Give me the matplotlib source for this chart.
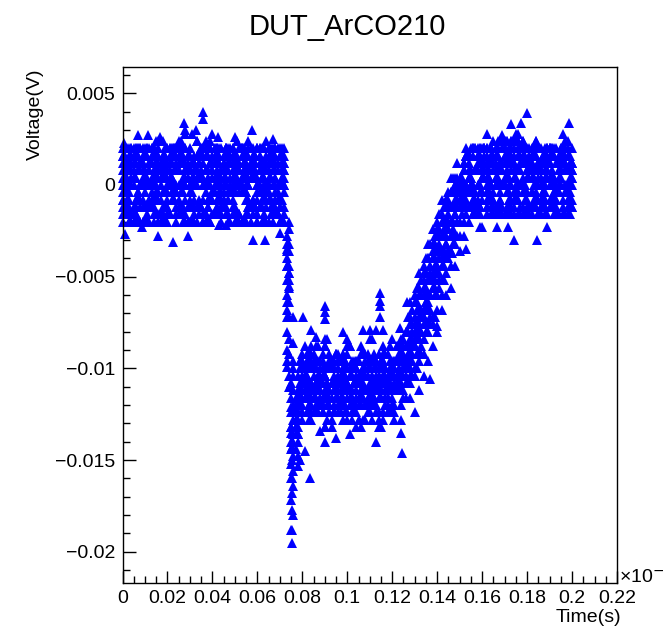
import numpy as np
import matplotlib
matplotlib.use("Agg")
import matplotlib.pyplot as plt
from matplotlib.ticker import FixedLocator, MultipleLocator

# ---- data -------------------------------------------------------------
title = "DUT_ArCO210"
x_label = "Time(s)"
y_label = "Voltage(V)"

# sample times in ns (axis shows units of 1e-6 s)
time_ns = [0, 2, 4, 6, 8, 10, 12, 14, 16, 18, 20, 22, 24, 26, 28, 30, 32, 34, 36, 38,
           40, 42, 44, 46, 48, 50, 52, 54, 56, 58, 60, 62, 64, 66, 68, 70, 72, 74, 76, 78,
           80, 82, 84, 86, 88, 90, 92, 94, 96, 98, 100, 102, 104, 106, 108, 110, 112, 114, 116, 118,
           120, 122, 124, 126, 128, 130, 132, 134, 136, 138, 140, 142, 144, 146, 148, 150, 152, 154, 156, 158,
           160, 162, 164, 166, 168, 170, 172, 174, 176, 178, 180, 182, 184, 186, 188, 190, 192, 194, 196, 198,
           200]
time_odd_ns = [1, 3, 5, 7, 9, 11, 13, 15, 17, 19, 21, 23, 25, 27, 29, 31, 33, 35, 37, 39,
               41, 43, 45, 47, 49, 51, 53, 55, 57, 59, 61, 63, 65, 67, 69, 71, 73, 75, 77, 79,
               81, 83, 85, 87, 89, 91, 93, 95, 97, 99, 101, 103, 105, 107, 109, 111, 113, 115, 117, 119,
               121, 123, 125, 127, 129, 131, 133, 135, 137, 139, 141, 143, 145, 147, 149, 151, 153, 155, 157, 159,
               161, 163, 165, 167, 169, 171, 173, 175, 177, 179, 181, 183, 185, 187, 189, 191, 193, 195, 197, 199]

# waveforms on the even grid, voltage in units of 0.1 mV
trace_1 = [4, -16, 12, -8, 20, 0, -20, 8, -4, 16, -12, 4, 20, -16, 8, 0, -8, 12, -20, 16, -4, 4, -12, 20, 0, -16, 8, 12, -8, 16, -20, 4, -4, 12, -12, 20, 0,
           -36, -112,
           -120, -104, -96, -112, -108, -100, -116, -92, -104, -112, -100, -108, -96, -120, -104, -100, -112, -92, -108, -104,
           -110, -96, -88, -84, -80, -64, -60, -48, -44, -32, -24, -20, -8, -8, 4,
           0, -12, 8, 16, -16, 12, 4, 20, -8, 8, -4, 16, -12, 20, 0, 12, -16, 4, 24, -8, 16, 0, -12, 8, 20, -4, 12]
trace_2 = [-12, 8, -20, 16, 0, -4, 12, -16, 20, 4, -8, 16, -12, 0, 8, -20, 12, 4, -16, 20, -4, 8, -8, 16, 0, -12, 20, -20, 4, 12, -16, 8, -4, 16, 0, -8, 12,
           -48, -128,
           -116, -108, -124, -100, -112, -116, -104, -120, -108, -96, -116, -112, -124, -104, -108, -120, -100, -116, -112, -104, -120,
           -104, -104, -92, -88, -76, -72, -56, -52, -40, -36, -28, -16, -12, -4, 0,
           4, -8, 16, -16, 8, 20, -4, 12, 0, -12, 16, 4, 24, -8, 12, -16, 20, 0, 8, -12, 16, 4, -4, 20, 8, -8]
trace_3 = [16, -4, 8, -20, 12, -12, 0, 20, -8, 4, -16, 16, 8, -4, 20, -12, 0, 12, -20, 4, 16, -8, 8, -16, 20, 0, -4, 12, -12, 4, 20, -20, 8, 16, -8, 0, -16,
           -24, -96,
           -104, -92, -100, -88, -108, -96, -84, -100, -112, -92, -104, -88, -100, -96, -108, -92, -84, -100, -104, -96, -92,
           -100, -96, -88, -80, -72, -64, -60, -48, -40, -32, -24, -20, -8, -4, 4,
           -8, 12, 4, 20, -16, 8, 0, 16, -12, 24, 4, -4, 12, 20, -16, 8, 16, -8, 0, 12, -12, 20, 4, 16, -4, 8]
trace_4 = [-8, 20, -16, 4, 12, -20, 8, 0, 16, -12, 4, 20, -4, -16, 12, 8, -20, 16, 0, -8, 28, -12, 4, 20, -4, 12, -16, 8, 0, 16, -20, 4, 12, -8, 20, -12, 0,
           -56, -148,
           -132, -120, -108, -116, -124, -104, -112, -120, -100, -116, -108, -124, -112, -100, -116, -120, -108, -112, -128, -104, -116, -112,
           -108, -96, -96, -84, -80, -68, -56, -52, -40, -36, -28, -20, -12, -4, 0,
           12, -4, 20, -12, 8, 16, 0, -16, 12, 24, 4, -8, 16, 20, -12, 8, 0, 12, -16, 20, 4, -4, 16, 8, -12]
trace_5 = [0, -12, 16, -20, 8, 4, -8, 20, -16, 12, 0, -4, 16, -12, 20, -20, 8, 4, 36, -8, 12, -16, 0, 20, -4, 8, -20, 16, 24, -12, 4, -8, 12, 20, -16, 0, 8,
           -72, -164,
           -140, -112, -104, -96, -116, -108, -100, -112, -120, -104, -96, -108, -116, -100, -112, -104, -96, -108, -112, -100, -116, -104, -108,
           -112, -100, -96, -84, -76, -72, -60, -48, -44, -36, -24, -20, -12, -8, 0,
           -4, 16, -12, 8, 20, 0, -16, 12, 24, -8, 4, 16, -12, 20, 8, -4, 12, 0, 20, -16, 8, 16, -8, 12]
trace_6 = [12, 0, -20, 16, -8, 4, 20, -12, 24, -16, 8, 0, -4, 12, 28, -20, 4, 16, -8, 0, -16, 20, 8, -12, 12, 4, -20, 16, 0, -8, 20, -4, 8, -16, 12, 0, -20,
           -92, -180,
           -148, -128, -116, -124, -108, -120, -132, -112, -124, -116, -128, -108, -120, -116, -132, -112, -124, -120, -108, -128, -116, -124, -112,
           -104, -104, -96, -88, -80, -68, -64, -52, -44, -36, -32, -20, -12, -4, 0,
           8, -16, 20, 4, -8, 16, 12, -12, 0, 20, 8, 28, -4, 12, -16, 16, 4, -8, 20, 0, 12, -12, 24, 4]
trace_7 = [-20, 8, 16, -12, 0, 20, -8, 4, 12, -16, 20, 0, -4, 24, -20, 8, 12, -12, 16, 4, -8, 20, -16, 0, 12, -4, 8, -20, 16, 4, 20, -12, 0, 12, -8, 16, -4,
           -20, -120,
           -124, -100, -92, -108, -96, -104, -88, -112, -100, -96, -108, -84, -104, -100, -92, -112, -100, -96, -104, -88, -108, -100, -96, -104,
           -100, -104, -88, -84, -76, -68, -56, -48, -40, -32, -28, -16, -8, -4, 4,
           -12, 16, 4, -4, 20, 8, -16, 12, 0, 24, -8, 16, 4, -12, 20, 8, -4, 12, 16, -16, 28, 0, 8]
trace_8 = [8, -8, 20, -16, 12, 0, -12, 16, 4, -20, 8, 20, -4, 12, -16, 0, 16, -8, 20, -12, 4, 12, -20, 8, 16, -4, 0, 20, -16, 12, -8, 4, 24, -12, 8, -20, 16,
           -44, -136,
           -128, -116, -108, -120, -100, -112, -104, -116, -124, -108, -112, -100, -116, -108, -120, -104, -112, -116, -100, -124, -108, -112, -104, -120, -116,
           -108, -100, -92, -84, -76, -72, -60, -52, -40, -36, -28, -20, -12, -4, 0,
           16, -8, 4, 20, -12, 12, 0, -16, 16, 8, 24, -4, 12, -12, 20, 4, -8, 16, 0, 12, -16, 20]
trace_9 = [-4, 12, -16, 20, 0, -12, 8, 16, -20, 4, 12, -8, 20, -16, 0, 8, -12, 16, 4, -20, 12, 0, -8, 20, -4, 16, -16, 8, 0, 12, -20, 4, 16, -8, 20, -12, 4,
           -64, -100,
           -112, -96, -108, -100, -88, -112, -104, -96, -108, -100, -116, -92, -104, -100, -108, -96, -112, -100, -104, -92, -108, -100, -96, -112, -104, -100,
           -104, -96, -92, -80, -76, -68, -60, -48, -44, -32, -28, -20, -12, -8, 0,
           -4, 12, -16, 20, 8, 0, 16, -12, 24, 4, -8, 12, 20, -16, 8, 16, -4, 0, 20, -12, 12]
trace_10 = [20, -16, 4, 12, -20, 8, 0, -8, 16, 24, -12, 4, -20, 16, 8, -4, 12, -16, 0, 20, -8, 16, -12, 4, -20, 12, 8, -4, 20, -16, 0, 12, -8, 16, 4, -20, 8,
            -104, -124,
            -136, -124, -112, -108, -120, -116, -104, -124, -112, -120, -108, -116, -128, -112, -104, -120, -116, -112, -124, -108, -116, -120, -112, -128, -108, -116, -124,
            -112, -104, -96, -88, -80, -68, -60, -56, -44, -36, -28, -20, -12, -8, -4,
            8, -12, 16, 0, 20, -8, 12, -16, 24, 4, -4, 16, 8, -12, 20, 0, 12, -8, 16, 4]
trace_11 = [-8, 12, 0, -16, 20, 4, -12, 16, 8, -4, -20, 12, 0, 16, -8, 20, -16, 4, 12, -12, 8, 20, -4, 0, 16, -20, 12, 4, -8, 20, -16, 8, 0, 12, -4, 16, -12,
            -52, -140,
            -124, -108, -116, -100, -112, -120, -104, -116, -108, -124, -100, -112, -116, -108, -120, -104, -112, -96, -116, -108, -124, -112, -104,
            -108, -100, -92, -84, -76, -68, -60, -52, -44, -36, -28, -20, -12, -4, 0,
            12, -8, 16, 4, -12, 20, 0, 8, -16, 12, 24, -4, 16, 8, -12, 20, 4, -8, 12, 0, 16, -16, 20, 8]
trace_12 = [16, -8, 4, 20, -12, 0, 12, -20, 8, 16, -4, 4, -16, 20, 0, -8, 12, 16, -20, 8, 4, -12, 20, 0, -4, 16, -16, 12, 8, -8, 0, 20, -12, 4, 16, -20, 12,
            -32, -104,
            -116, -96, -104, -92, -100, -108, -88, -100, -96, -104, -92, -108, -100, -96, -88, -104, -100, -108, -92, -96, -104, -100, -88, -96,
            -96, -100, -88, -84, -72, -68, -56, -48, -44, -32, -28, -16, -12, -4, 4,
            -4, 16, 8, -12, 20, 4, -8, 12, 16, -16, 0, 20, 8, -4, 24, -12, 12, 4, -8, 16, 20, 0, -12]
trace_13 = [-16, 4, 20, -8, 12, 16, -12, 0, -20, 8, 20, -4, 12, -16, 4, 16, 0, -12, 20, -20, 8, 12, -8, 16, 4, -16, 0, 20, -12, 8, -4, 12, -20, 16, 4, -8, 20,
            -84, -156,
            -136, -124, -116, -128, -112, -120, -132, -116, -124, -108, -120, -128, -116, -124, -112, -128, -120, -116, -132, -108, -124, -116,
            -112, -104, -96, -88, -76, -72, -60, -52, -40, -36, -28, -20, -12, -8, 0,
            8, -12, 20, 0, 12, -16, 16, 4, -8, 20, 12, -4, 24, 0, -16, 16, 8, -12, 20, 4, -4, 12, 16, -8, 0]

# waveforms on the odd grid, voltage in units of 0.1 mV
odd_1 = [8, -16, 20, -4, 12, -12, 0, 16, -20, 4, 12, -8, 20, -16, 8, 0, -12, 16, 24, -20, 4, 12, -8, 16, -4, 0, 20, -16, 8, -12, 12, 4, -20, 16, -4, 8,
         -40, -124,
         -128, -112, -104, -116, -100, -108, -120, -112, -96, -108, -116, -104, -112, -100, -120, -108, -104, -116, -96, -112, -108,
         -104, -96, -92, -84, -72, -68, -56, -52, -40, -32, -28, -16, -12, -4, 4,
         12, -8, 20, 0, -16, 16, 4, -4, 24, 8, -12, 12, 20, -8, 0, 16, -16, 8, 20, -4, 12, 4, -12, 16, 8, 0]
odd_2 = [-12, 16, 0, -20, 8, 20, -8, 4, -16, 12, 0, 16, 24, -12, 4, -20, 8, 20, -4, 12, -16, 0, 16, -8, 20, -20, 4, 12, -12, 8, 16, -4, 0, 20, -16, 12,
         -28, -140,
         -116, -96, -100, -92, -104, -88, -100, -108, -96, -92, -104, -100, -88, -108, -96, -100, -92, -104, -112, -96, -100, -88,
         -100, -100, -88, -80, -76, -64, -60, -48, -44, -36, -24, -20, -8, -4, 0,
         -8, 16, 4, 20, -12, 8, 12, -16, 24, 0, -4, 16, 8, -12, 20, 4, -8, 12, 16, -16, 0, 20, 8, -4, 12]
odd_3 = [20, -8, 4, -20, 16, 0, -12, 12, -16, 8, 20, -4, 0, 16, -20, 12, 4, -12, 8, 20, -16, 0, 12, -8, 16, 24, -4, -20, 8, 12, -12, 4, 20, -16, 0, 8,
         -60, -172,
         -144, -120, -112, -128, -116, -124, -108, -120, -132, -116, -112, -124, -120, -108, -128, -116, -124, -112, -120, -132, -116, -108, -124,
         -108, -100, -92, -88, -76, -68, -60, -52, -40, -36, -28, -20, -12, -4, 0,
         16, -12, 8, 0, 20, -8, 12, 4, -16, 24, 8, -4, 16, 0, -12, 20, 12, -8, 4, 16, -16, 8, 20, 0]
odd_4 = [-4, 12, -20, 16, 4, -12, 20, 0, -8, 16, -16, 8, 12, -20, 4, 28, -12, 20, 0, -8, 16, -4, 12, -16, 8, -20, 20, 4, -12, 16, 0, 8, -8, 12, -16, -20,
         -80, -152,
         -132, -108, -100, -112, -96, -104, -116, -100, -108, -92, -104, -112, -100, -96, -108, -104, -116, -96, -104, -112, -100, -108, -96,
         -104, -96, -96, -80, -80, -68, -56, -48, -44, -32, -28, -16, -12, -8, 4,
         -16, 20, 8, -4, 12, 0, 16, -12, 20, 4, -8, 28, 12, -16, 8, 16, 0, -12, 20, 4, -4, 12, 24, -8]
odd_5 = [0, -20, 16, 8, -12, 20, -4, 12, -16, 4, 20, -8, 16, 0, -20, 12, 8, -12, 20, 24, -16, 4, 16, -4, 12, -20, 0, 8, 20, -12, 16, -8, 4, 12, -16, 0,
         -52, -132,
         -124, -116, -104, -120, -112, -108, -124, -100, -116, -112, -120, -104, -116, -108, -128, -112, -100, -120, -112, -116, -104, -124, -112, -108,
         -112, -100, -92, -84, -80, -68, -60, -52, -40, -36, -24, -20, -8, -8, 0,
         4, -12, 16, 20, -8, 8, 0, 24, -16, 12, 4, 20, -4, 16, -12, 8, 0, 20, -8, 12, 16, -16, 4]
odd_6 = [16, -12, 8, 20, -20, 4, 12, -4, -16, 16, 0, 20, -8, 12, 4, -20, 16, -12, 8, 0, 20, -16, 4, 12, -8, 16, -20, 0, 12, -12, 8, 20, -4, 16, -16, 4,
         -32, -108,
         -120, -96, -88, -100, -92, -104, -96, -84, -100, -92, -108, -96, -88, -100, -104, -92, -96, -84, -100, -108, -92, -96, -100, -88,
         -96, -96, -88, -84, -72, -64, -60, -48, -40, -36, -24, -20, -12, -4, 0,
         -4, 20, -12, 12, 4, 16, -16, 8, 24, 0, -8, 20, 12, -12, 16, 4, -4, 20, 8, -16, 12, 0, 16]
odd_7 = [-16, 20, 4, -8, 12, -20, 16, 24, 0, -12, 8, 20, -16, 4, 12, -4, -20, 16, 8, -8, 20, 0, -12, 12, 4, -16, 20, -20, 8, 16, -4, 12, 0, -12, 20, -8,
         -68, -188,
         -136, -120, -116, -108, -124, -112, -120, -128, -108, -116, -124, -112, -104, -120, -116, -128, -112, -108, -124, -116, -120, -112, -128, -108, -116,
         -108, -104, -92, -88, -76, -72, -60, -48, -44, -36, -28, -20, -12, -8, 0,
         8, -16, 20, 4, -8, 16, 12, -12, 24, 0, 20, -4, 8, 16, -16, 12, 4, 20, -8, 0, 16, -12]
odd_8 = [12, -4, -16, 20, 0, -12, 16, 8, -20, 12, 4, -8, 20, -16, 8, 0, 24, -12, 16, -20, 4, 12, -4, 20, -16, 8, 0, 16, -12, 4, 20, -20, 12, 8, -8, 16,
         -96, -144,
         -124, -112, -100, -108, -116, -96, -104, -112, -100, -108, -120, -96, -104, -108, -116, -100, -112, -104, -96, -108, -116, -100, -104, -112, -96, -108,
         -104, -100, -92, -80, -76, -72, -56, -52, -40, -32, -28, -16, -12, -4, -4,
         -12, 16, 8, -4, 20, 0, 12, -16, 24, 8, -8, 16, 4, 20, -12, 12, 0, -4, 16, 8, -16]
odd_9 = [4, -20, 12, 16, -8, 0, 20, -16, 8, -4, 12, 20, -12, 0, 16, -20, 4, 8, -16, 20, 12, -8, 0, 16, -12, 4, 20, -4, -20, 12, 8, -16, 16, 0, -8, 20,
         -44, -160,
         -128, -112, -104, -120, -116, -108, -124, -112, -100, -116, -120, -108, -112, -124, -104, -116, -112, -120, -108, -100, -116, -112, -120,
         -104, -100, -96, -84, -80, -68, -64, -52, -44, -36, -24, -20, -12, -4, 0,
         16, 0, -12, 20, 8, -4, 12, -16, 24, 4, 16, -8, 0, 20, -12, 8, 12, -4, 16, 4, -16, 20, 0, 8]
odd_10 = [-12, 8, 16, -4, 20, -16, 0, 12, 4, -20, 16, -8, 8, 20, -12, 4, 0, 16, -16, 12, -4, 20, 8, -20, 0, 12, 16, -8, 4, -12, 20, 0, 8, -16, 12, 4,
          -36, -116,
          -120, -100, -108, -96, -112, -104, -92, -108, -100, -116, -96, -104, -112, -100, -108, -92, -104, -116, -100, -96, -108, -104, -112, -96, -104,
          -100, -96, -92, -80, -76, -68, -56, -52, -40, -36, -24, -20, -8, -4, 0,
          -8, 12, 20, 4, -12, 16, 0, 8, 24, -4, -16, 12, 20, 4, -8, 16, 8, -12, 0, 20, 12, -4]
odd_11 = [20, 0, -12, 8, -20, 16, 4, -8, 12, 20, -16, 0, 8, -4, 16, -12, 24, 4, -20, 12, 0, 16, -8, 8, 20, -16, 4, -4, 12, 16, -12, 0, 20, -20, 8, 12,
          -64, -132,
          -132, -116, -108, -124, -112, -120, -104, -116, -128, -112, -108, -120, -116, -124, -104, -112, -120, -128, -108, -116, -112, -124,
          -108, -104, -92, -88, -80, -68, -60, -48, -44, -32, -28, -20, -12, -4, 4,
          -4, 16, 8, -16, 20, 4, 12, -8, 0, 24, 16, -12, 8, 20, -4, 12, 0, -16, 16, 8, 20, -8, 4, 12, 0]

even_traces = [trace_1, trace_2, trace_3, trace_4, trace_5, trace_6, trace_7,
               trace_8, trace_9, trace_10, trace_11, trace_12, trace_13]
odd_traces = [odd_1, odd_2, odd_3, odd_4, odd_5, odd_6, odd_7, odd_8,
              odd_9, odd_10, odd_11]

# isolated samples (time in ns, voltage in 0.1 mV)
extra_t = [0.5, 7, 11.5, 16.5, 27.4, 28, 32.7, 36, 42.5, 50, 57.7, 67,
           1, 8.7, 16, 22.5, 29, 43, 46, 58, 63.4, 70,
           73, 73, 74, 74, 73, 76, 80.5, 73, 73, 74, 75, 75, 75.5, 75.5, 75.5, 75.5, 75.5, 75.5, 75.5,
           83.4, 76, 90, 90, 90,
           114.6, 114.6, 114.6, 114.6, 107, 110, 113, 116, 84, 86, 98, 120,
           124.4, 124, 113, 95, 101, 90, 81, 79, 78, 88, 104,
           123.5, 126.6, 153, 159, 137, 140, 146.5,
           180, 198.5, 177.5, 173, 169, 162, 154,
           174, 184.5, 166.7, 171.6, 189, 160]
extra_v = [23, 27, 27, 26, 34, 30, 30, 40, 26, 26, 30, 25,
           -27, -23, -28, -31, -28, -22, -22, -30, -30, -26,
           -35, -44, -55, -48, -72, -72, -72, -90, -99, -110, -121, -135, -143, -150, -160, -168, -177, -188, -195,
           -160, -86, -69, -73, -66,
           -59, -63, -66, -72, -79, -79, -79, -79, -79, -83, -80, -84,
           -146, -135, -140, -138, -136, -140, -145, -150, -153, -134, -132,
           -78, -64, -35, -23, -106, -77, -37,
           39, 34, 34, 33, 27, 28, 17,
           -30, -30, -23, -23, -23, -23]

x_ticks = [0, 0.02, 0.04, 0.06, 0.08, 0.1, 0.12, 0.14, 0.16, 0.18, 0.2, 0.22]
x_tick_labels = ["0", "0.02", "0.04", "0.06", "0.08", "0.1", "0.12", "0.14",
                 "0.16", "0.18", "0.2", "0.22"]
y_ticks = [0.005, 0, -0.005, -0.01, -0.015, -0.02]
y_tick_labels = ["0.005", "0", "\u22120.005", "\u22120.01", "\u22120.015", "\u22120.02"]

# ---- figure -----------------------------------------------------------
W, H = 664, 627
fig = plt.figure(figsize=(W / 100, H / 100), dpi=100)
plt.rcParams['font.family'] = ['Liberation Sans', 'DejaVu Sans']

ax = fig.add_axes([122.5 / W, 1 - 583 / H, (617 - 122.5) / W, (583 - 67) / H])

mk = dict(ls='none', marker='^', ms=7.6, mew=0, color='#0000ff', clip_on=False)
t_even = np.array(time_ns) * 1e-3
t_odd = np.array(time_odd_ns) * 1e-3
for tr in even_traces:
    ax.plot(t_even, np.array(tr) * 1e-4, **mk)
for tr in odd_traces:
    ax.plot(t_odd, np.array(tr) * 1e-4, **mk)
ax.plot(np.array(extra_t) * 1e-3, np.array(extra_v) * 1e-4, **mk)

ax.set_xlim(0, 0.22)
ax.set_ylim(-0.0217, 0.00643)

ax.xaxis.set_major_locator(FixedLocator(x_ticks))
ax.set_xticklabels(x_tick_labels)
ax.xaxis.set_minor_locator(MultipleLocator(0.005))
ax.yaxis.set_major_locator(FixedLocator(y_ticks))
ax.set_yticklabels(y_tick_labels)
ax.yaxis.set_minor_locator(MultipleLocator(0.001))

ax.tick_params(which='both', direction='in', top=False, right=False,
               labelsize=14, width=1, colors='black')
ax.tick_params(which='major', length=9, pad=5)
ax.tick_params(which='minor', length=5)
for sp in ax.spines.values():
    sp.set_linewidth(1)
    sp.set_color('black')

fig.text(347 / W, 1 - 27 / H, title, ha='center', va='center', fontsize=21)
fig.text(35 / W, 1 - 68 / H, y_label, ha='center', va='top', rotation=90,
         fontsize=14)
fig.text(621 / W, 1 - 617 / H, x_label, ha='right', va='center', fontsize=14)
fig.text(619 / W, 1 - 576 / H, "\u00d710$^{-6}$", ha='left', va='center',
         fontsize=14)

fig.savefig("out.png", dpi=100)
